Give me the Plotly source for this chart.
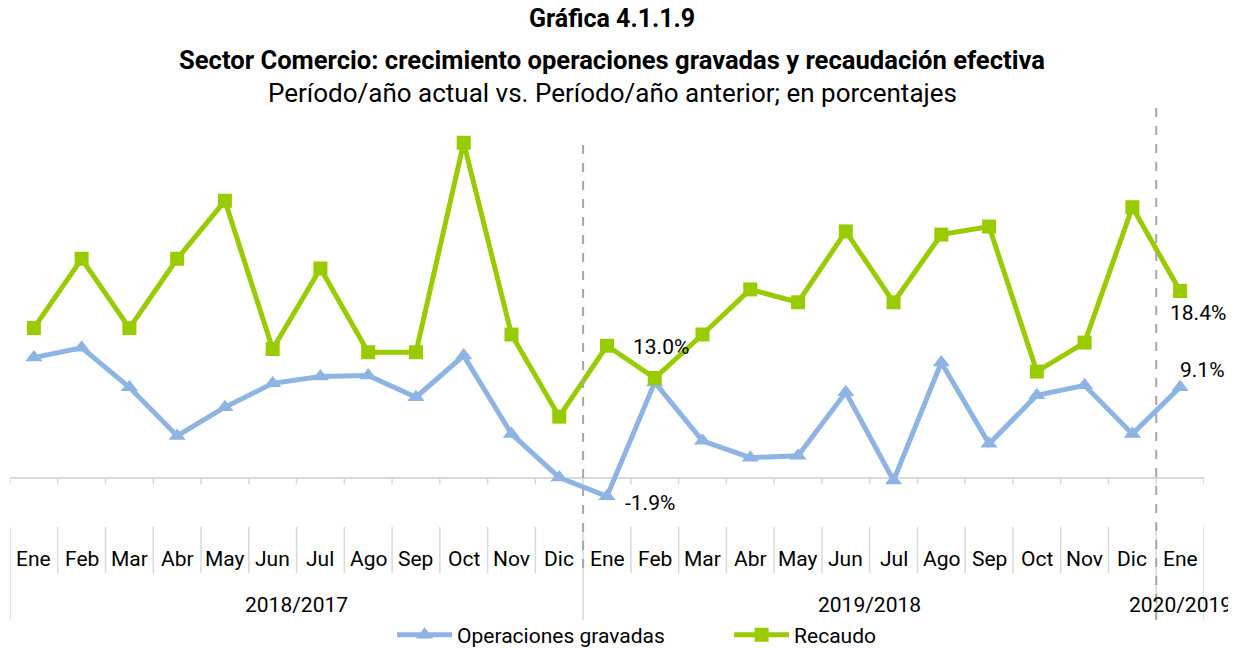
import plotly.graph_objects as go

months = ["Ene", "Feb", "Mar", "Abr", "May", "Jun", "Jul", "Ago", "Sep", "Oct", "Nov", "Dic",
          "Ene", "Feb", "Mar", "Abr", "May", "Jun", "Jul", "Ago", "Sep", "Oct", "Nov", "Dic",
          "Ene"]
year_groups = ["2018/2017", "2019/2018", "2020/2019"]
group_sizes = [12, 12, 1]

operaciones = [12.1, 13.1, 9.1, 4.2, 7.1, 9.5, 10.2, 10.3, 8.1, 12.3, 4.4, 0.0,
               -1.9, 9.6, 3.7, 2.0, 2.2, 8.6, -0.3, 11.6, 3.4, 8.3, 9.3, 4.4,
               9.1]
recaudo = [16.1, 20.4, 16.1, 20.4, 24.0, 14.8, 19.8, 14.6, 14.6, 27.6, 15.7, 10.6,
           15.0, 13.0, 15.7, 18.5, 17.7, 22.1, 17.7, 21.9, 22.4, 13.4, 15.2, 23.6,
           18.4]

labels_oper = {12: "-1.9%", 24: "9.1%"}
labels_rec = {13: "13.0%", 24: "18.4%"}

FONT = "Roboto, 'Liberation Sans', sans-serif"
BLUE = "#8EB4E3"
GREEN = "#99CC00"
GRID = "#D9D9D9"

idx = list(range(len(months)))

fig = go.Figure()
fig.add_trace(go.Scatter(
    x=idx, y=operaciones, name="Operaciones gravadas", mode="lines+markers",
    line=dict(color=BLUE, width=5), marker=dict(symbol="triangle-up", size=15, color=BLUE),
    yaxis="y", cliponaxis=False))
fig.add_trace(go.Scatter(
    x=idx, y=recaudo, name="Recaudo", mode="lines+markers",
    line=dict(color=GREEN, width=5), marker=dict(symbol="square", size=14, color=GREEN),
    yaxis="y2", cliponaxis=False))

LBL = dict(family=FONT, size=21, color="#000000")
annotations = []
# data labels
annotations.append(dict(x=12, y=operaciones[12], xref="x", yref="y", text=labels_oper[12],
                        showarrow=False, xanchor="left", yanchor="middle", xshift=16, yshift=-7, font=LBL))
annotations.append(dict(x=24, y=operaciones[24], xref="x", yref="y", text=labels_oper[24],
                        showarrow=False, xanchor="left", yanchor="bottom", xshift=-2, yshift=3, font=LBL))
annotations.append(dict(x=13, y=recaudo[13], xref="x", yref="y2", text=labels_rec[13],
                        showarrow=False, xanchor="center", yanchor="bottom", xshift=6, yshift=17, font=LBL))
annotations.append(dict(x=24, y=recaudo[24], xref="x", yref="y2", text=labels_rec[24],
                        showarrow=False, xanchor="left", yanchor="top", xshift=-12, yshift=-8, font=LBL))

# month labels
for i, m in enumerate(months):
    annotations.append(dict(x=i, y=0, xref="x", yref="paper", text=m, showarrow=False,
                            xanchor="center", yanchor="middle", yshift=-32, font=LBL))
# year labels
start = 0
bounds = [0]
for g, n in zip(year_groups, group_sizes):
    center = start + (n - 1) / 2
    annotations.append(dict(x=center, y=0, xref="x", yref="paper", text=g, showarrow=False,
                            xanchor="center", yanchor="middle", yshift=-78, font=LBL))
    start += n
    bounds.append(start)

# titles
titles = [("<b>Gráfica 4.1.1.9</b>", 90, 25),
          ("<b>Sector Comercio: crecimiento operaciones gravadas y recaudación efectiva</b>", 48, 25.6),
          ("Período/año actual vs. Período/año anterior; en porcentajes", 15, 26)]
for t, ys, fs in titles:
    annotations.append(dict(x=0.5042, y=1, xref="paper", yref="paper", text=t, showarrow=False,
                            xanchor="center", yanchor="middle", yshift=ys,
                            font=dict(family=FONT, size=fs, color="#000000")))

shapes = []
# small ticks along the zero line
for k in range(len(months) + 1):
    shapes.append(dict(type="line", xref="x", yref="y", x0=k - 0.5, x1=k - 0.5,
                       ysizemode="pixel", yanchor=0, y0=0, y1=-7,
                       line=dict(color=GRID, width=1.5)))
# month separators
for k in range(len(months) + 1):
    shapes.append(dict(type="line", xref="x", yref="paper", x0=k - 0.5, x1=k - 0.5,
                       ysizemode="pixel", yanchor=0, y0=0, y1=-46,
                       line=dict(color=GRID, width=1.5)))
# group separators
for b in bounds:
    shapes.append(dict(type="line", xref="x", yref="paper", x0=b - 0.5, x1=b - 0.5,
                       ysizemode="pixel", yanchor=0, y0=-46, y1=-93,
                       line=dict(color=GRID, width=1.5)))
# dashed period dividers
shapes.append(dict(type="line", xref="x", yref="paper", x0=bounds[1] - 0.5, x1=bounds[1] - 0.5,
                   ysizemode="pixel", yanchor=1, y0=-37, y1=-462,
                   line=dict(color="#A6A6A6", width=2, dash="dash")))
shapes.append(dict(type="line", xref="x", yref="paper", x0=bounds[2] - 0.5, x1=bounds[2] - 0.5,
                   ysizemode="pixel", yanchor=1, y0=0, y1=-512,
                   line=dict(color="#A6A6A6", width=2, dash="dash")))

# page body has an 8px margin, so the figure is 8px smaller than the window
fig.update_layout(
    width=1228, height=640,
    margin=dict(l=2, r=32, t=100, b=121, autoexpand=False),
    paper_bgcolor="white", plot_bgcolor="white",
    font=dict(family=FONT, size=21, color="#000000"),
    xaxis=dict(range=[-0.5, len(months) - 0.5], showticklabels=False, showgrid=False,
               zeroline=False, showline=False, ticks=""),
    yaxis=dict(range=[-4.995, 37.29], showticklabels=False, showgrid=False,
               zeroline=True, zerolinecolor=GRID, zerolinewidth=1.5, showline=False, ticks=""),
    yaxis2=dict(range=[3.75, 29.76], overlaying="y", side="right", showticklabels=False,
                showgrid=False, zeroline=False, showline=False, ticks=""),
    showlegend=True,
    legend=dict(orientation="h", x=0.320, xanchor="left", y=-0.258, yanchor="middle",
                font=dict(family=FONT, size=21), itemwidth=55, entrywidth=267,
                bgcolor="rgba(0,0,0,0)"),
    annotations=annotations,
    shapes=shapes,
)

fig.write_html("out.html")
